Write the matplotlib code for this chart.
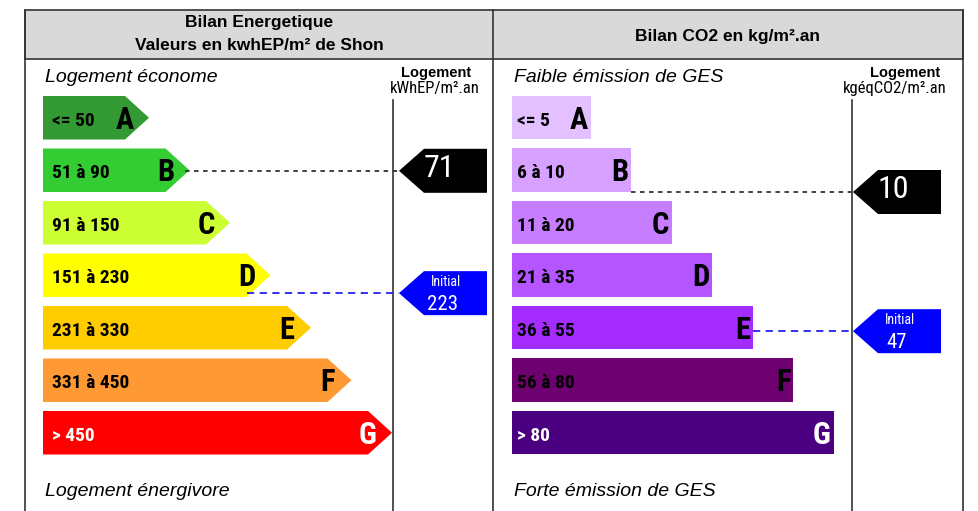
import matplotlib.pyplot as plt
from matplotlib import font_manager
from matplotlib.patches import Polygon, Rectangle

# Energy classes (kWhEP/m².an)
classes = ['A', 'B', 'C', 'D', 'E', 'F', 'G']
energy_ranges = ['<= 50', '51 à 90', '91 à 150', '151 à 230', '231 à 330', '331 à 450', '> 450']
energy_bounds = [(0, 50), (51, 90), (91, 150), (151, 230), (231, 330), (331, 450), (451, 600)]
energy_colors = ['#339933', '#33cc33', '#ccff33', '#ffff00', '#ffcc00', '#ff9933', '#ff0000']
energy_current = 71
energy_initial = 223

# CO2 classes (kgéqCO2/m².an)
co2_ranges = ['<= 5', '6 à 10', '11 à 20', '21 à 35', '36 à 55', '56 à 80', '> 80']
co2_bounds = [(0, 5), (6, 10), (11, 20), (21, 35), (36, 55), (56, 80), (81, 120)]
co2_colors = ['#e3c0ff', '#d7a2ff', '#c77dff', '#b455ff', '#a52cff', '#6e0070', '#4b0082']
co2_current = 10
co2_initial = 47

# pick a narrow font if one is installed, otherwise Liberation Sans a bit smaller
installed = {f.name for f in font_manager.fontManager.ttflist}
condensed = {f.name for f in font_manager.fontManager.ttflist if 'condensed' in str(f.stretch)}
NARROW, STRETCH, k = ['Liberation Sans', 'DejaVu Sans'], 'normal', 0.84
for name in ['Liberation Sans Narrow', 'Arial Narrow', 'Roboto Condensed', 'DejaVu Sans Condensed']:
    if name in installed:
        NARROW, STRETCH, k = [name, 'DejaVu Sans'], 'normal', 1.0
        break
else:
    for name in ['Roboto', 'DejaVu Sans', 'Open Sans', 'Noto Sans']:
        if name in condensed:
            NARROW, STRETCH, k = [name, 'DejaVu Sans'], 'condensed', 1.0
            break
SANS = ['Liberation Sans', 'DejaVu Sans']


def ntext(x, y, s, size, **kw):
    ax.text(x, y, s, fontsize=size * k, family=NARROW, fontstretch=STRETCH, **kw)


fig = plt.figure(figsize=(9.79, 5.11), dpi=100)
ax = fig.add_axes([0, 0, 1, 1])
ax.set_xlim(0, 979)
ax.set_ylim(511, 0)
ax.axis('off')

# frame + header
ax.add_patch(Rectangle((25, 10), 938, 49, facecolor='#d9d9d9', edgecolor='#333333', lw=1.2))
for x in [25, 493, 963]:
    ax.plot([x, x], [10, 511], color='#333333', lw=1.2)
ax.text(259, 23, 'Bilan Energetique', ha='center', va='center', fontsize=12.5, fontweight='bold', family=SANS)
ax.text(259, 46, 'Valeurs en kwhEP/m² de Shon', ha='center', va='center', fontsize=12.5, fontweight='bold', family=SANS)
ax.text(728, 36, 'Bilan CO2 en kg/m².an', ha='center', va='center', fontsize=12.5, fontweight='bold', family=SANS)

bar_top0, pitch, bar_h = 96, 52.5, 43.5


def bar_y(i):
    return bar_top0 + pitch * i


def value_y(value, bounds):
    for i, (lo, hi) in enumerate(bounds):
        if value <= hi or i == len(bounds) - 1:
            frac = min(max((value - lo) / (hi - lo), 0), 1)
            return i, bar_y(i) + frac * bar_h


def marker(tip_x, y, color, label, initial=False):
    body_l, body_r, half = tip_x + 25, tip_x + 88, 22
    ax.add_patch(Polygon([(tip_x, y), (body_l, y - half), (body_r, y - half),
                          (body_r, y + half), (body_l, y + half)], closed=True,
                         facecolor=color, edgecolor='none', zorder=3))
    if initial:
        ntext(body_l + 22, y - 11, 'Initial', 10, ha='center', va='center', color='white', zorder=4)
        ntext(body_l + 19, y + 11, str(label), 15, ha='center', va='center', color='white', zorder=4)
    else:
        ntext(body_l + 15, y - 2, str(label), 23, ha='center', va='center', color='white', zorder=4)


# ---------- left panel: energy ----------
x0 = 43
depth = 24
tips = []
for i, (cls, rng, col) in enumerate(zip(classes, energy_ranges, energy_colors)):
    top = bar_y(i)
    tip = 149 + 40.5 * i
    tips.append(tip)
    rect_end = tip - depth
    ax.add_patch(Polygon([(x0, top), (rect_end, top), (tip, top + bar_h / 2),
                          (rect_end, top + bar_h), (x0, top + bar_h)], closed=True,
                         facecolor=col, edgecolor='none'))
    tcol = 'white' if cls == 'G' else 'black'
    ntext(x0 + 9, top + bar_h / 2 + 3, rng, 14, ha='left', va='center', fontweight='bold', color=tcol)
    ntext(rect_end, top + bar_h / 2 + 2, cls, 22, ha='center', va='center', fontweight='bold', color=tcol)

ax.text(45, 77, 'Logement économe', ha='left', va='center', fontsize=14, style='italic', family=SANS)
ax.text(45, 492, 'Logement énergivore', ha='left', va='center', fontsize=14, style='italic', family=SANS)
ax.text(436, 73, 'Logement', ha='center', va='center', fontsize=10.5, fontweight='bold', family=SANS)
ntext(435, 89, 'kWhEP/m².an', 12, ha='center', va='center')
ax.plot([393, 393], [100, 511], color='#333333', lw=1.2)


def arrow_edge(i, y):
    mid = bar_y(i) + bar_h / 2
    return tips[i] - depth + depth * (1 - abs(y - mid) / (bar_h / 2))


for val, col, style, init in [(energy_current, 'black', (0, (2.5, 2.5)), False),
                              (energy_initial, '#0000ff', (0, (4, 3)), True)]:
    i, y = value_y(val, energy_bounds)
    ax.plot([arrow_edge(i, y) - 4, 399], [y, y], color='#333333' if col == 'black' else '#2222ee',
            lw=1.3, linestyle=style, zorder=2)
    marker(399, y, col, val, initial=init)

# ---------- right panel: CO2 ----------
x1 = 512
rights = []
for i, (cls, rng, col) in enumerate(zip(classes, co2_ranges, co2_colors)):
    top = bar_y(i)
    right = 591 + 40.5 * i
    rights.append(right)
    ax.add_patch(Rectangle((x1, top), right - x1, bar_h, facecolor=col, edgecolor='none'))
    tcol = 'white' if cls == 'G' else 'black'
    ntext(x1 + 5, top + bar_h / 2 + 3, rng, 14, ha='left', va='center', fontweight='bold', color=tcol)
    ntext(right - 3, top + bar_h / 2 + 2, cls, 22, ha='right', va='center', fontweight='bold', color=tcol)

ax.text(514, 77, 'Faible émission de GES', ha='left', va='center', fontsize=14, style='italic', family=SANS)
ax.text(514, 492, 'Forte émission de GES', ha='left', va='center', fontsize=14, style='italic', family=SANS)
ax.text(905, 73, 'Logement', ha='center', va='center', fontsize=10.5, fontweight='bold', family=SANS)
ntext(895, 89, 'kgéqCO2/m².an', 12, ha='center', va='center')
ax.plot([852, 852], [100, 511], color='#333333', lw=1.2)

for val, col, style, init in [(co2_current, 'black', (0, (2.5, 2.5)), False),
                              (co2_initial, '#0000ff', (0, (4, 3)), True)]:
    i, y = value_y(val, co2_bounds)
    ax.plot([rights[i], 853], [y, y], color='#333333' if col == 'black' else '#2222ee',
            lw=1.3, linestyle=style, zorder=2)
    marker(853, y, col, val, initial=init)

plt.savefig('out.png', dpi=100)
plt.close()
